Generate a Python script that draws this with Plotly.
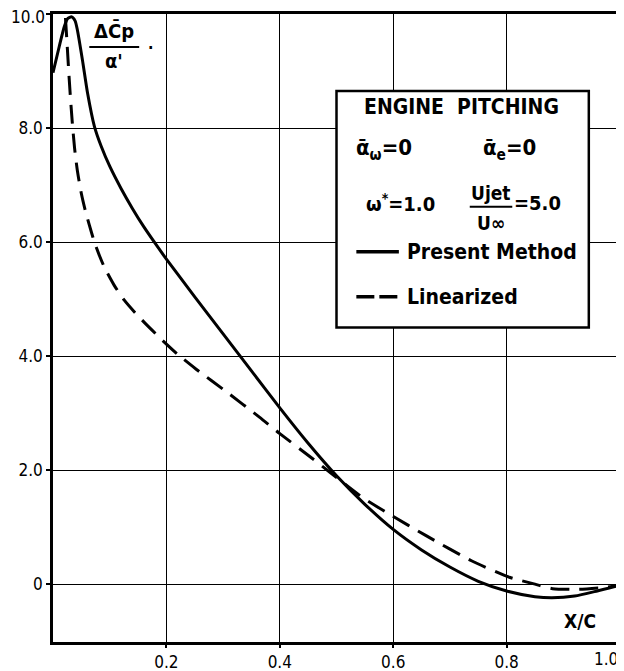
import plotly.graph_objects as go

# ---- data ----
present_x = [0.0, 0.011, 0.02, 0.026, 0.033, 0.039, 0.043, 0.052, 0.061, 0.073, 0.085, 0.1,
             0.12, 0.14, 0.16, 0.18, 0.2, 0.25, 0.3, 0.35, 0.4, 0.45, 0.5, 0.55, 0.6,
             0.65, 0.7, 0.75, 0.8, 0.85, 0.88, 0.92, 0.96, 1.0]
present_y = [8.97, 9.43, 9.78, 9.92, 9.95, 9.88, 9.72, 9.19, 8.61, 8.03, 7.68, 7.33,
             6.94, 6.59, 6.27, 5.98, 5.7, 5.04, 4.39, 3.74, 3.09, 2.47, 1.9, 1.4, 0.96,
             0.6, 0.3, 0.05, -0.12, -0.22, -0.24, -0.21, -0.12, -0.02]

linear_x = [0.022, 0.025, 0.028, 0.031, 0.034, 0.038, 0.043, 0.05, 0.057, 0.064, 0.073, 0.082,
            0.091, 0.108, 0.125, 0.144, 0.164, 0.2, 0.22, 0.2525, 0.305, 0.364, 0.4, 0.458,
            0.49, 0.546, 0.593, 0.658, 0.738, 0.805, 0.85, 0.881, 0.928, 0.97, 1.0]
linear_y = [9.93, 9.45, 8.95, 8.5, 8.1, 7.65, 7.25, 6.85, 6.55, 6.3, 6.0, 5.76,
            5.55, 5.24, 4.99, 4.77, 4.56, 4.21, 4.03, 3.77, 3.38, 2.93, 2.64, 2.2,
            1.95, 1.52, 1.23, 0.85, 0.41, 0.12, 0.0, -0.08, -0.09, -0.06, -0.02]

x_tickvals = [0.2, 0.4, 0.6, 0.8, 1.0]
x_ticktext = ["0.2", "0.4", "0.6", "0.8", ""]
y_tickvals = [0, 2, 4, 6, 8, 10]
y_ticktext = ["0", "2.0", "4.0", "6.0", "8.0", ""]

FONT = "DejaVu Sans Condensed"

fig = go.Figure()
fig.add_trace(go.Scatter(x=present_x, y=present_y, mode="lines",
                         line=dict(color="black", width=3, shape="spline", smoothing=0.6),
                         showlegend=False, hoverinfo="skip"))
fig.add_trace(go.Scatter(x=linear_x, y=linear_y, mode="lines",
                         line=dict(color="black", width=3, dash="19px,10px", shape="spline", smoothing=0.6),
                         showlegend=False, hoverinfo="skip"))

shapes = []
# legend box
shapes.append(dict(type="rect", xref="x", yref="y", x0=0.5, x1=0.945, y0=4.5, y1=8.65,
                   fillcolor="white", line=dict(color="black", width=2.5), layer="above"))
# fraction line Ujet / Uinf
shapes.append(dict(type="line", xref="x", yref="y", x0=0.735, x1=0.81, y0=6.62, y1=6.62,
                   line=dict(color="black", width=2), layer="above"))
# legend sample lines
shapes.append(dict(type="line", xref="x", yref="y", x0=0.535, x1=0.61, y0=5.83, y1=5.83,
                   line=dict(color="black", width=3.5), layer="above"))
shapes.append(dict(type="line", xref="x", yref="y", x0=0.535, x1=0.61, y0=5.04, y1=5.04,
                   line=dict(color="black", width=3.5, dash="18px,5px"), layer="above"))
# y label fraction line
shapes.append(dict(type="line", xref="x", yref="y", x0=0.064, x1=0.152, y0=9.42, y1=9.42,
                   line=dict(color="black", width=2), layer="above"))
fig.update_layout(shapes=shapes)

ann = []
def txt(x, y, s, size=20, xanchor="center"):
    ann.append(dict(x=x, y=y, xref="x", yref="y", text=s, showarrow=False,
                    xanchor=xanchor, yanchor="middle",
                    font=dict(family=FONT, size=size, color="black", weight="bold")))

txt(0.72, 8.37, "ENGINE  PITCHING", 21)
txt(0.53, 7.62, "ᾱ<sub>ω</sub>=0", 22, "left")
txt(0.755, 7.62, "ᾱ<sub>e</sub>=0", 22, "left")
txt(0.548, 6.69, "ω<sup>*</sup>=1.0", 20, "left")
txt(0.772, 6.86, "Ujet", 19)
txt(0.772, 6.33, "U∞", 19)
txt(0.81, 6.69, "=5.0", 20, "left")
txt(0.62, 5.83, "Present Method", 21, "left")
txt(0.62, 5.04, "Linearized", 21, "left")
txt(0.108, 9.7, "ΔC̄p", 20)
txt(0.108, 9.17, "α'", 20)
txt(0.172, 9.42, "·", 16)
txt(0.93, -0.65, "X/C", 19)
TICKFONT = dict(family=FONT, size=17, color="black")
# end tick labels kept inside the page like the reference
ann.append(dict(x=1.0, y=0, xref="x", yref="paper", text="1.0", showarrow=False,
                xanchor="right", yanchor="top", yshift=-5, xshift=0, font=TICKFONT))
ann.append(dict(x=0, y=10.0, xref="paper", yref="y", text="10.0", showarrow=False,
                xanchor="right", yanchor="middle", xshift=-6, yshift=-3, font=TICKFONT))
fig.update_layout(annotations=ann)

fig.update_xaxes(range=[0, 1.0], tickvals=x_tickvals, ticktext=x_ticktext,
                 showgrid=True, gridcolor="black", gridwidth=1.2,
                 showline=True, linecolor="black", linewidth=2.5, mirror=True,
                 ticks="outside", ticklen=3, tickcolor="black", tickwidth=1.5,
                 zeroline=False, automargin=False, ticklabeloverflow="allow",
                 tickfont=TICKFONT)
fig.update_yaxes(range=[-1.015, 10.0], tickvals=y_tickvals, ticktext=y_ticktext,
                 showgrid=True, gridcolor="black", gridwidth=1.2,
                 showline=True, linecolor="black", linewidth=2.5, mirror=True,
                 ticks="outside", ticklen=4, tickcolor="black", tickwidth=1.5,
                 zeroline=False, automargin=False, ticklabeloverflow="allow",
                 tickfont=TICKFONT)

# the page body adds an 8px margin, so the figure is 8px smaller than the window
fig.update_layout(width=616, height=663, margin=dict(l=45, r=4, t=6, b=29),
                  paper_bgcolor="white", plot_bgcolor="white", showlegend=False)

fig.write_html("out.html")
